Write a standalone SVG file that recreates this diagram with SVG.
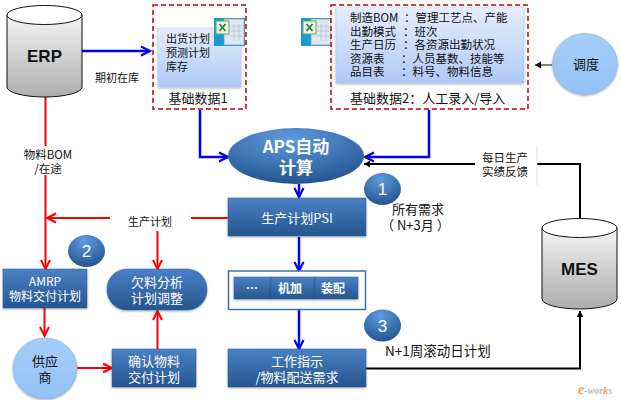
<svg xmlns="http://www.w3.org/2000/svg" width="621" height="400" viewBox="0 0 621 400">
<style>
text{font-family:"Noto Sans CJK SC","Liberation Sans",sans-serif;fill:#111}
.s11{font-size:11px}.s115{font-size:11.5px}.s13{font-size:13px}
.w{fill:#fff;font-size:13px;text-anchor:middle}
.wb{font-size:12px;font-weight:bold}
.aps{font-size:17px;font-weight:bold}
.m{text-anchor:middle}
.dash{fill:#fff;stroke:#c00000;stroke-width:1.5;stroke-dasharray:5 3}
.box{fill:url(#bl);stroke:#2e6099;stroke-width:.5;filter:url(#sh)}
.paper{fill:url(#pale);stroke:#b9c6de;stroke-width:.5;filter:url(#sh)}
.bk{fill:none;stroke:#000;stroke-width:2}
.bl{fill:none;stroke:#0000f0;stroke-width:2.5}
.rd{fill:none;stroke:#f00;stroke-width:2}
.num{fill:#fff;font-size:17px;text-anchor:middle;font-family:"Liberation Sans",sans-serif}
.db{font-family:"Liberation Sans",sans-serif;font-weight:bold;font-size:17px;text-anchor:middle;fill:#111}
.sky{fill:url(#sky);stroke:#7fa7d6;stroke-width:.5;filter:url(#sh)}
.cyl{fill:url(#cyl);stroke:#111}
</style>
<defs>
<linearGradient id="bl" x1="0" y1="0" x2="0" y2="1"><stop offset="0" stop-color="#4a80c5"/><stop offset="1" stop-color="#25568f"/></linearGradient>
<radialGradient id="ball" cx=".45" cy=".2" r=".9"><stop offset="0" stop-color="#5f9be0"/><stop offset="1" stop-color="#1c4c86"/></radialGradient>
<linearGradient id="pale" x1="0" y1="0" x2="0" y2="1"><stop offset="0" stop-color="#e6edfb"/><stop offset="1" stop-color="#afc9f7"/></linearGradient>
<linearGradient id="cyl" x1="0" y1="0" x2="0" y2="1"><stop offset="0" stop-color="#f4f4f4"/><stop offset="1" stop-color="#adadad"/></linearGradient>
<linearGradient id="sky" x1="0" y1="0" x2="0" y2="1"><stop offset="0" stop-color="#a6cdf8"/><stop offset="1" stop-color="#93c2f6"/></linearGradient>
<filter id="sh" x="-10%" y="-10%" width="120%" height="125%"><feDropShadow dx="0" dy="1" stdDeviation="1" flood-color="#000" flood-opacity=".35"/></filter>
<marker id="ab" markerUnits="userSpaceOnUse" markerWidth="14" markerHeight="14" refX="10" refY="6" orient="auto"><path d="M1 1.500L10 6L1 10.500" fill="none" stroke="#0000f0" stroke-width="2.2"/></marker>
<marker id="ar" markerUnits="userSpaceOnUse" markerWidth="14" markerHeight="14" refX="10" refY="6" orient="auto"><path d="M1 1.500L10 6L1 10.500" fill="none" stroke="#f00" stroke-width="2"/></marker>
<marker id="ak" markerUnits="userSpaceOnUse" markerWidth="8" markerHeight="8" refX="6" refY="3.500" orient="auto"><path d="M0 0L6 3.500L0 7Z" fill="#000"/></marker>
<g id="xl"><rect width="31" height="28" fill="#1d9ad6"/><rect x="10" y="1" width="20" height="26" fill="#dfe8f2" stroke="#7f9bb8" stroke-width=".7"/><path d="M15 8H28M15 13H28M15 18H28M20 6V23M25 6V23" stroke="#a9bdd0" stroke-width=".7"/><rect x="2" y="3" width="13" height="13" fill="#eaf3e2" stroke="#6aa84f"/><path d="M5.500 6L11.500 13M11.500 6L5.500 13" stroke="#2c8a3c" stroke-width="1.800" fill="none"/></g>
</defs>
<rect width="621" height="400" fill="#fff"/>

<g id="connectors">
<path class="bl" marker-end="url(#ab)" d="M82 51H150"/>
<path class="bl" marker-end="url(#ab)" d="M200 110V157H228"/>
<path class="bl" marker-end="url(#ab)" d="M429 110V157H365"/>
<path class="bk" marker-end="url(#ak)" d="M580 219V164H364"/>
<path d="M552 65H535" fill="none" stroke="#000" marker-end="url(#ak)"/>
<path class="bl" marker-end="url(#ab)" d="M299 184V197"/>
<path class="bl" marker-end="url(#ab)" d="M299 237V271"/>
<path class="bl" marker-end="url(#ab)" d="M299 310V349"/>
<path class="rd" marker-end="url(#ar)" d="M45.500 96V269"/>
<path class="rd" marker-end="url(#ar)" d="M228 218H47"/>
<path class="rd" marker-end="url(#ar)" d="M157.500 218V269"/>
<path class="rd" marker-end="url(#ar)" d="M44.500 308V336"/>
<path class="rd" marker-end="url(#ar)" d="M77 368H112"/>
<path class="rd" marker-end="url(#ar)" d="M157.500 349V311"/>
<path class="bk" marker-end="url(#ak)" d="M365 368.500H580V311"/>
</g>

<g id="erp"><path class="cyl" d="M7 15V87A37.500 10 0 0 0 82 87V15Z"/><ellipse cx="44.500" cy="15" rx="37.500" ry="9.500" fill="#fff" stroke="#111"/><text class="db" x="44.500" y="62">ERP</text></g>
<g id="mes"><path class="cyl" d="M542 228V299A37.500 10 0 0 0 617 299V228Z"/><ellipse cx="579.500" cy="228" rx="37.500" ry="9.500" fill="#fff" stroke="#111"/><text class="db" x="579.500" y="275">MES</text></g>

<g id="data1"><rect class="dash" x="153" y="5" width="93" height="104"/><rect class="paper" x="158" y="28" width="83" height="59"/><use href="#xl" x="214" y="18"/><text class="s11"><tspan x="166" y="43">出货计划</tspan><tspan x="166" y="57">预测计划</tspan><tspan x="166" y="71">库存</tspan></text><text class="s13 m" x="198" y="103">基础数据1</text></g>
<use id="xl2" href="#xl" x="301" y="18"/>
<g id="data2"><rect class="dash" x="331" y="5" width="197" height="104"/><rect class="paper" x="336" y="7" width="188" height="76"/>
<text class="s115"><tspan x="350" y="22">制造BOM</tspan><tspan x="404" y="22">：管理工艺点、产能</tspan><tspan x="350" y="36">出勤模式</tspan><tspan x="403" y="36">：班次</tspan><tspan x="350" y="49">生产日历</tspan><tspan x="403" y="49">：各资源出勤状况</tspan><tspan x="350" y="63">资源表</tspan><tspan x="401" y="63">：人员基数、技能等</tspan><tspan x="350" y="76">品目表</tspan><tspan x="401" y="76">：料号、物料信息</tspan></text>
<text class="s13" x="350" y="103">基础数据2：人工录入/导入</text></g>
<g id="dispatch"><ellipse class="sky" cx="585" cy="64" rx="32.500" ry="30.500"/><text class="s13 m" x="586" y="69">调度</text></g>

<g id="aps"><ellipse cx="296" cy="156" rx="68" ry="28" fill="url(#ball)"/><text class="w aps"><tspan x="296" y="153">APS自动</tspan><tspan x="296" y="174">计算</tspan></text></g>
<g id="psi"><rect class="box" x="228" y="198" width="138" height="38"/><text class="w" x="297" y="223">生产计划PSI</text></g>
<g id="proc"><rect x="228.500" y="271" width="137" height="38.500" fill="#fff" stroke="#3e70ad" stroke-width="1.500"/><rect class="box" x="234" y="277" width="37" height="22"/><rect class="box" x="271" y="277" width="44" height="22"/><rect class="box" x="315" y="277" width="43" height="22"/><text class="w wb" x="252" y="293">…</text><text class="w wb" x="290" y="293">机加</text><text class="w wb" x="333" y="293">装配</text></g>
<g id="work"><rect class="box" x="228" y="349" width="138" height="38"/><text class="w"><tspan x="297" y="366">工作指示</tspan><tspan x="297" y="382">/物料配送需求</tspan></text></g>
<g id="amrp"><rect class="box" x="3" y="269" width="84" height="39"/><text class="w" style="font-size:12px"><tspan x="45" y="286">AMRP</tspan><tspan x="45" y="301">物料交付计划</tspan></text></g>
<g id="short"><rect class="box" x="107" y="269" width="100" height="41" rx="20"/><text class="w"><tspan x="157" y="287">欠料分析</tspan><tspan x="157" y="303">计划调整</tspan></text></g>
<g id="confirm"><rect class="box" x="112" y="349" width="84" height="38"/><text class="w"><tspan x="154" y="366">确认物料</tspan><tspan x="154" y="382">交付计划</tspan></text></g>
<g id="supplier"><ellipse class="sky" cx="45" cy="368.500" rx="32" ry="30.500"/><text class="s13 m"><tspan x="45" y="366">供应</tspan><tspan x="45" y="382">商</tspan></text></g>

<g id="badge1"><ellipse cx="382.500" cy="189" rx="18.500" ry="16" fill="url(#ball)"/><text class="num" x="382.500" y="195">1</text></g>
<g id="badge2"><ellipse cx="86.500" cy="251" rx="18.500" ry="16" fill="url(#ball)"/><text class="num" x="86.500" y="257">2</text></g>
<g id="badge3"><ellipse cx="382.500" cy="325.500" rx="18.500" ry="16" fill="url(#ball)"/><text class="num" x="382.500" y="331.500">3</text></g>

<g id="labels">
<text class="s11" x="95" y="82">期初在库</text>
<rect x="20" y="146" width="54" height="29" fill="#fff"/><text class="s115 m"><tspan x="48" y="159">物料BOM</tspan><tspan x="48" y="173">/在途</tspan></text>
<rect x="110" y="210" width="81" height="21" fill="#fff"/><text class="s11 m" x="150" y="226">生产计划</text>
<rect x="475" y="148" width="62" height="36" fill="#fff"/><path d="M537 147V185" stroke="#ccc" stroke-width=".7"/><text class="s115"><tspan x="482" y="162">每日生产</tspan><tspan x="482" y="176">实绩反馈</tspan></text>
<text class="s13"><tspan x="392" y="214">所有需求</tspan><tspan x="381" y="230">（ N+3月 ）</tspan></text>
<text x="385" y="356" style="font-size:13.500px">N+1周滚动日计划</text>
<text x="578" y="394" font-size="10" font-style="italic" font-weight="bold" style="fill:#b8b8b8;font-family:'Liberation Serif',serif"><tspan style="fill:#eba35c;font-size:14px">e</tspan>-wor<tspan style="fill:#e8a040">k</tspan>s</text>
</g>
</svg>
